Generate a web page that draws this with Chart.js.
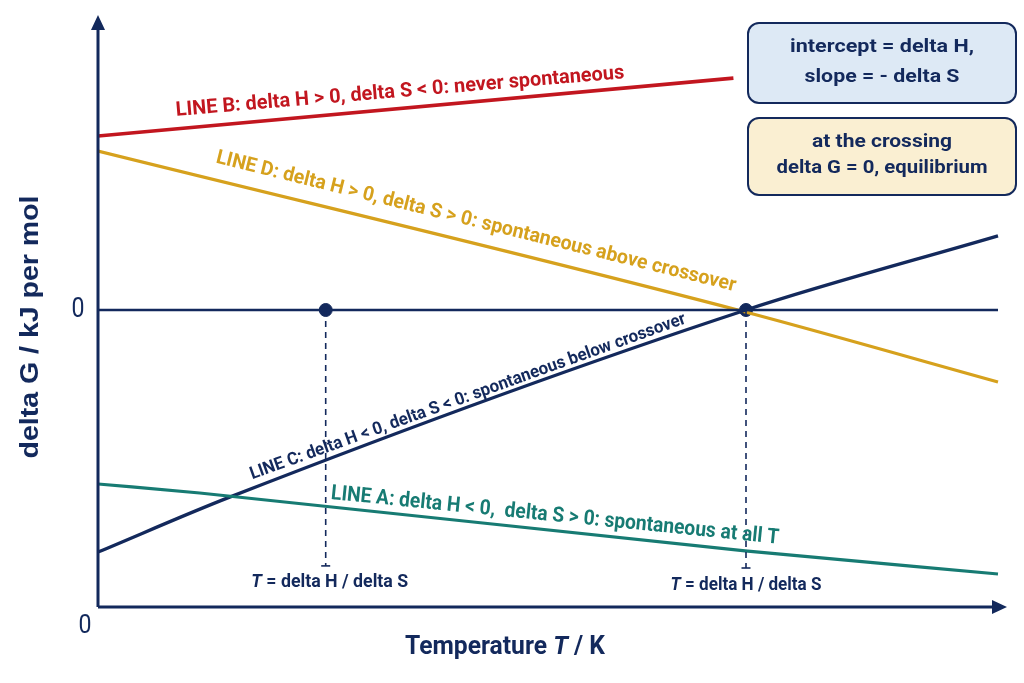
<!DOCTYPE html>
<html>
<head>
<meta charset="utf-8">
<title>delta G against temperature</title>
<script src="https://cdn.jsdelivr.net/npm/chart.js@4.4.1/dist/chart.umd.min.js"></script>
<style>
  html, body { margin: 0; padding: 0; background: #ffffff; }
  #wrap { width: 1024px; height: 683px; }
</style>
</head>
<body>
<div id="wrap"><canvas id="gibbsChart"></canvas></div>
<script>
// axis ranges (temperature in arbitrary units, delta G in kJ per mol)
const tempRange = [0, 101];
const gRange = [-99, 99];

// the four delta G lines
const lineA_T = [0, 11.3, 71.9, 100];
const lineA_G = [-58, -61, -80.3, -88];
const lineB_T = [0, 70.6];
const lineB_G = [58, 77.3];
const lineC_T = [0, 14.7, 72, 100];
const lineC_G = [-80.7, -62.3, 0, 24.7];
const lineD_T = [0, 71.1, 100];
const lineD_G = [53, 0, -24];

// delta G = 0 line and the two T = delta H / delta S markers
const zeroLine_T = [0, 100];
const zeroLine_G = [0, 0];
const markerT = [25.3, 72];
const markerBottomG = [-85.3, -86];

const NAVY = '#13295c';
const RED = '#c2161f';
const GOLD = '#d6a11d';
const TEAL = '#177b73';

// condensed look: Roboto squeezed to the widths measured on the picture
const narrow = '"Roboto", "Liberation Sans", sans-serif';
const plain = '"Liberation Sans", "Roboto", Arial, sans-serif';

function pts(xs, ys) {
    return xs.map((x, i) => ({ x: x, y: ys[i] }));
}

function lineSet(xs, ys, color, width) {
    return {
        data: pts(xs, ys),
        borderColor: color,
        borderWidth: width,
        pointRadius: 0,
        cubicInterpolationMode: 'monotone',
        fill: false
    };
}

// dashed drop line from a marker to its small end tick
function dropSet(i) {
    return {
        data: [{ x: markerT[i], y: 0 }, { x: markerT[i], y: markerBottomG[i] }],
        borderColor: NAVY,
        borderWidth: 1.6,
        borderDash: [6, 5],
        pointStyle: 'line',
        pointRadius: [0, 4.5],
        pointBorderWidth: 1.6,
        pointBorderColor: NAVY,
        fill: false
    };
}

// text drawn with an optional stretch so it spans a given width
function drawLabel(ctx, parts, cx, cy, angle, size, color, targetW, family, weight) {
    ctx.save();
    ctx.translate(cx, cy);
    ctx.rotate(angle * Math.PI / 180);
    let w = 0;
    parts.forEach(p => {
        ctx.font = (p.italic ? 'italic ' : '') + weight + ' ' + size + 'px ' + family;
        p.w = ctx.measureText(p.t).width;
        w += p.w;
    });
    const sx = targetW ? targetW / w : 1;
    ctx.scale(sx, 1);
    ctx.fillStyle = color;
    ctx.textBaseline = 'middle';
    ctx.textAlign = 'left';
    let x = -w / 2;
    parts.forEach(p => {
        ctx.font = (p.italic ? 'italic ' : '') + weight + ' ' + size + 'px ' + family;
        ctx.fillText(p.t, x, 0);
        x += p.w;
    });
    ctx.restore();
}

function drawBox(ctx, x, y, w, h, fill, lines) {
    ctx.save();
    ctx.beginPath();
    ctx.roundRect(x, y, w, h, 11);
    ctx.fillStyle = fill;
    ctx.fill();
    ctx.lineWidth = 2;
    ctx.strokeStyle = NAVY;
    ctx.stroke();
    ctx.restore();
    lines.forEach(l => {
        drawLabel(ctx, [{ t: l.t }], x + w / 2, l.y, 0, 19, NAVY, l.w, '"Roboto", ' + plain, 'bold');
    });
}

const decorations = {
    id: 'decorations',
    afterDatasetsDraw(chart) {
        const ctx = chart.ctx;
        const xs = chart.scales.x;
        const ys = chart.scales.y;
        const x0 = xs.getPixelForValue(0);
        const yBottom = chart.chartArea.bottom;
        const xEnd = chart.chartArea.right;
        const yTop = chart.chartArea.top + 2;

        // axes with arrow heads
        ctx.save();
        ctx.strokeStyle = NAVY;
        ctx.fillStyle = NAVY;
        ctx.lineWidth = 3;
        ctx.beginPath();
        ctx.moveTo(x0, yBottom);
        ctx.lineTo(x0, yTop + 12);
        ctx.moveTo(x0, yBottom);
        ctx.lineTo(xEnd - 12, yBottom);
        ctx.stroke();
        ctx.beginPath();
        ctx.moveTo(x0, yTop);
        ctx.lineTo(x0 - 7, yTop + 15);
        ctx.lineTo(x0 + 7, yTop + 15);
        ctx.closePath();
        ctx.fill();
        ctx.beginPath();
        ctx.moveTo(xEnd, yBottom);
        ctx.lineTo(xEnd - 15, yBottom - 7);
        ctx.lineTo(xEnd - 15, yBottom + 7);
        ctx.closePath();
        ctx.fill();
        ctx.restore();

        // zero labels
        drawLabel(ctx, [{ t: '0' }], 78, ys.getPixelForValue(0), 0, 27, NAVY, 13, narrow, 'normal');
        drawLabel(ctx, [{ t: '0' }], 85, 627, 0, 25, NAVY, 13, narrow, 'normal');

        // axis titles
        drawLabel(ctx, [{ t: 'delta G / kJ per mol' }], 31, 327, -90, 26, NAVY, 263, plain, 'bold');
        drawLabel(ctx, [{ t: 'Temperature ' }, { t: 'T', italic: true }, { t: ' / K' }],
            505, 648, 0, 25, NAVY, 200, narrow, 'bold');

        // line labels
        drawLabel(ctx, [{ t: 'LINE B: delta H > 0, delta S < 0: never spontaneous' }],
            400, 92, -4.8, 20, RED, 450, narrow, 'bold');
        drawLabel(ctx, [{ t: 'LINE D: delta H > 0, delta S > 0: spontaneous above crossover' }],
            476, 222, 13.9, 20, GOLD, 535, narrow, 'bold');
        drawLabel(ctx, [{ t: 'LINE C: delta H < 0, delta S < 0: spontaneous below crossover' }],
            468, 397, -19.8, 17.5, NAVY, 462, narrow, 'bold');
        drawLabel(ctx, [{ t: 'LINE A: delta H < 0,  delta S > 0: spontaneous at all T' }],
            555, 516, 5.7, 21, TEAL, 450, narrow, 'bold');

        // T = delta H / delta S captions
        const cap = [{ t: 'T', italic: true }, { t: ' = delta H / delta S' }];
        drawLabel(ctx, cap, xs.getPixelForValue(markerT[0]) + 4, 582, 0, 18, NAVY, 157, narrow, 'bold');
        drawLabel(ctx, cap, xs.getPixelForValue(markerT[1]), 585, 0, 18, NAVY, 151, narrow, 'bold');

        // note boxes
        drawBox(ctx, 748, 23, 268, 80, '#dde9f5', [
            { t: 'intercept = delta H,', y: 47, w: 184 },
            { t: 'slope = - delta S', y: 77, w: 155 }
        ]);
        drawBox(ctx, 748, 118, 268, 77, '#faefd2', [
            { t: 'at the crossing', y: 142, w: 140 },
            { t: 'delta G = 0, equilibrium', y: 168, w: 211 }
        ]);
    }
};

const ctx = document.getElementById('gibbsChart').getContext('2d');
window.gibbsChart = new Chart(ctx, {
    type: 'line',
    data: {
        datasets: [
            lineSet(zeroLine_T, zeroLine_G, NAVY, 2.5),
            dropSet(0),
            dropSet(1),
            lineSet(lineA_T, lineA_G, TEAL, 3.2),
            lineSet(lineC_T, lineC_G, NAVY, 3.3),
            lineSet(lineD_T, lineD_G, GOLD, 3.3),
            lineSet(lineB_T, lineB_G, RED, 3.6),
            {
                type: 'scatter',
                data: pts(markerT, [0, 0]),
                pointRadius: 6.5,
                pointBackgroundColor: NAVY,
                pointBorderColor: NAVY,
                showLine: false
            }
        ]
    },
    options: {
        responsive: true,
        maintainAspectRatio: false,
        animation: false,
        devicePixelRatio: 1,
        layout: { padding: { left: 98, right: 17, top: 13, bottom: 76 } },
        plugins: {
            legend: { display: false },
            tooltip: { enabled: false }
        },
        scales: {
            x: { type: 'linear', min: tempRange[0], max: tempRange[1], display: false },
            y: { type: 'linear', min: gRange[0], max: gRange[1], display: false }
        }
    },
    plugins: [decorations]
});
</script>
</body>
</html>
